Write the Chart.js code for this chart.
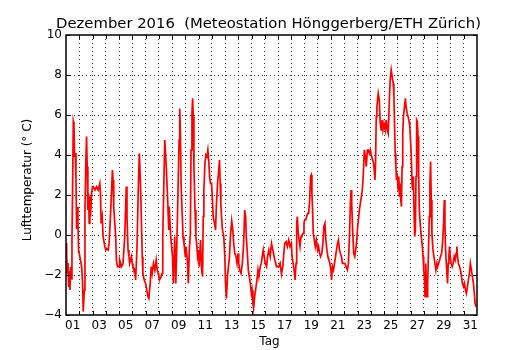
<!DOCTYPE html>
<html><head><meta charset="utf-8">
<script src="https://cdn.jsdelivr.net/npm/chart.js@4/dist/chart.umd.min.js"></script>
<style>html,body{margin:0;padding:0;background:#fff}canvas{display:block}</style>
</head><body>
<canvas id="c" width="530" height="350"></canvas>
<script>
const titleText = 'Dezember 2016  (Meteostation Hönggerberg/ETH Zürich)';
const xTitle = 'Tag';
const yTitle = 'Lufttemperatur (° C)';
const dayLabels = ['01','03','05','07','09','11','13','15','17','19','21','23','25','27','29','31'];
const yTickValues = [-4, -2, 0, 2, 4, 6, 8, 10];

// time in days since 1 Dec 00:00
const timeDays = [
 0.00,0.05,0.10,0.15,0.20,0.25,0.30,0.35,0.40,0.45,0.50,0.55,0.60,0.65,0.70,0.75,0.80,0.85,0.90,0.95,
 1.00,1.05,1.18,1.25,1.30,1.38,1.43,1.50,1.55,1.60,1.65,1.70,1.75,1.80,1.85,1.93,
 2.00,2.05,2.18,2.30,2.43,2.55,2.60,2.65,2.73,2.80,2.93,
 3.00,3.05,3.18,3.25,3.35,3.43,3.50,3.55,3.60,3.68,3.75,3.80,3.88,
 4.00,4.05,4.18,4.30,4.43,4.50,4.55,4.60,4.68,4.75,4.80,4.93,
 5.00,5.05,5.18,5.25,5.35,5.45,5.53,5.60,5.68,5.75,5.80,5.90,
 6.00,6.05,6.18,6.25,6.35,6.43,6.50,6.60,6.70,6.80,6.88,6.95,
 7.00,7.05,7.18,7.25,7.30,7.38,7.45,7.55,7.65,7.75,7.78,7.90,
 8.03,8.10,8.20,8.28,8.35,8.45,8.53,8.58,8.63,8.68,8.75,8.83,8.90,
 9.00,9.05,9.15,9.23,9.30,9.38,9.43,9.50,9.55,9.60,9.65,9.73,9.80,9.85,9.93,
 10.00,10.05,10.15,10.23,10.30,10.35,10.40,10.48,10.55,10.63,10.70,10.78,10.83,10.90,10.98,
 11.03,11.10,11.20,11.28,11.35,11.43,11.50,11.58,11.63,11.68,11.73,11.80,11.90,11.98,
 12.03,12.10,12.18,12.25,12.33,12.40,12.50,12.58,12.65,12.73,12.83,12.90,12.98,
 13.03,13.10,13.20,13.30,13.40,13.48,13.55,13.60,13.68,13.75,13.83,13.90,13.98,
 14.03,14.10,14.15,14.23,14.30,14.40,14.48,14.55,14.65,14.73,14.80,14.88,14.95,
 15.03,15.13,15.20,15.30,15.40,15.50,15.60,15.75,15.88,
 16.05,16.15,16.25,16.35,16.43,16.50,16.60,16.70,16.80,16.90,
 17.00,17.05,17.13,17.20,17.28,17.35,17.40,17.45,17.50,17.58,17.65,17.73,17.80,17.88,17.95,
 18.00,18.08,18.15,18.23,18.30,18.38,18.45,18.50,18.55,18.60,18.65,18.73,18.80,18.88,18.98,
 19.05,19.13,19.20,19.30,19.38,19.45,19.53,19.60,19.68,19.75,19.83,19.90,19.98,
 20.03,20.10,20.18,20.25,20.33,20.40,20.48,20.55,20.63,20.70,20.78,20.85,20.93,
 21.03,21.13,21.23,21.30,21.38,21.45,21.50,21.55,21.63,21.70,21.78,21.85,21.93,21.98,
 22.05,22.13,22.20,22.28,22.35,22.43,22.50,22.58,22.65,22.73,22.80,22.88,22.95,
 23.05,23.13,23.20,23.25,23.30,23.35,23.40,23.45,23.55,23.63,23.70,23.78,23.83,23.90,23.98,
 24.08,24.15,24.23,24.30,24.38,24.45,24.53,24.60,24.68,24.73,24.78,24.83,24.88,24.93,24.98,
 25.05,25.10,25.15,25.20,25.25,25.30,25.35,25.40,25.45,25.53,25.60,25.65,25.73,25.80,25.88,25.93,26.00,
 26.05,26.10,26.15,26.20,26.25,26.30,26.35,26.40,26.45,26.50,26.55,26.60,26.65,26.73,26.80,26.88,26.93,26.98,
 27.03,27.08,27.13,27.18,27.23,27.28,27.33,27.40,27.45,27.50,27.55,27.60,27.68,27.75,27.83,27.90,27.98,
 28.03,28.10,28.18,28.25,28.33,28.40,28.48,28.53,28.58,28.63,28.70,28.78,28.83,28.88,28.93,28.98,
 29.05,29.13,29.20,29.28,29.35,29.43,29.48,29.53,29.60,29.68,29.75,29.83,29.90,29.98,
 30.05,30.13,30.20,30.28,30.35,30.43,30.50,30.58,30.65,30.73,30.80,30.85,30.95
];

// air temperature in degrees C
const tempC = [
 -0.40,-1.00,-1.90,-1.40,-2.60,-1.80,-2.75,-1.60,-2.20,-0.30,2.58,5.67,5.50,3.90,4.10,2.90,0.30,1.40,0.60,-0.80,
 -0.92,-0.92,-1.58,-2.42,-3.83,-2.75,1.25,3.75,4.92,3.42,1.25,2.08,0.58,1.92,0.92,2.08,
 2.42,2.42,2.25,2.42,2.25,2.58,2.08,0.58,0.92,-0.08,-0.58,
 -0.75,-0.67,-0.75,-0.42,0.92,2.08,3.25,2.75,1.42,0.58,-0.08,-1.25,-1.58,
 -1.58,-1.25,-1.58,-1.42,-0.08,1.42,2.42,0.92,-0.75,-1.08,-1.42,-1.08,
 -1.42,-1.58,-1.75,-2.25,-0.75,2.25,4.08,2.92,0.92,-1.08,-1.92,-2.25,
 -2.42,-2.58,-3.08,-3.17,-2.42,-1.58,-1.92,-1.42,-1.75,-1.25,-1.75,-1.92,
 -2.08,-2.25,-2.08,-1.92,-0.08,2.58,4.75,3.58,2.08,0.25,1.42,-0.08,
 -1.08,-2.42,-0.08,-2.42,-0.75,2.25,4.75,6.33,5.08,2.58,1.25,-0.08,-0.42,
 -1.08,-0.58,-1.25,-2.42,-0.75,0.08,4.25,6.08,6.83,5.92,3.42,1.25,-0.08,-0.42,-1.08,
 -0.75,-1.58,-0.25,-1.75,-2.08,0.92,2.25,3.58,4.00,3.92,4.25,3.58,2.92,2.58,2.58,
 1.92,0.92,0.58,0.25,1.58,2.58,3.08,3.75,2.58,1.58,0.92,0.25,-0.08,-1.08,
 -2.42,-3.17,-2.08,-1.58,-1.08,-0.08,0.70,0.25,-0.42,-0.92,-1.08,-1.42,-0.92,
 -1.42,-1.75,-1.92,-1.42,-0.42,1.25,0.92,-0.08,-0.92,-1.75,-2.08,-2.42,-2.92,
 -2.75,-3.42,-3.67,-3.08,-2.75,-2.25,-1.75,-2.08,-1.58,-1.42,-1.08,-0.75,-1.08,
 -1.42,-1.58,-1.08,-0.75,-1.08,-0.42,-0.75,-1.25,-1.58,
 -1.58,-1.42,-1.95,-1.58,-0.92,-0.42,-0.33,-0.58,-0.25,-0.58,
 -0.42,-1.08,-1.42,-1.75,-2.25,-1.42,0.58,0.92,0.25,-0.25,-0.58,-0.08,0.00,0.08,0.58,
 0.75,0.75,0.92,1.08,1.08,1.75,2.92,3.00,2.08,1.25,0.08,-0.25,-0.58,-0.25,-0.75,
 -0.58,-0.92,-1.08,-0.92,-0.42,0.42,0.58,-0.25,-0.75,-1.08,-1.25,-1.42,-1.75,
 -2.25,-1.58,-1.75,-1.42,-1.08,-0.75,-0.42,-0.25,-0.75,-0.92,-1.08,-1.42,-1.42,
 -1.42,-1.58,-1.75,-1.42,-0.08,1.58,2.25,1.58,0.08,-0.92,-1.08,-0.75,-0.25,0.25,
 0.75,1.25,1.58,1.92,2.25,3.08,4.25,3.92,3.42,4.25,4.25,4.08,4.25,
 3.92,3.75,3.58,3.25,2.75,3.58,5.92,6.42,7.08,6.75,5.58,5.25,5.75,5.25,5.58,
 5.25,5.75,5.25,5.08,6.58,7.75,8.25,7.92,7.58,7.08,5.58,4.08,3.42,2.75,3.08,
 2.25,2.92,1.92,2.58,1.75,1.42,3.42,5.08,5.92,6.42,6.83,6.42,6.08,5.92,5.67,5.42,4.58,
 3.75,2.58,2.25,2.92,1.25,-0.08,0.25,2.92,5.75,5.67,4.92,3.08,1.25,0.42,-0.08,-0.58,-1.08,-1.75,
 -2.08,-3.08,-1.42,-2.42,-3.08,-2.42,-1.08,0.92,2.58,3.67,1.75,0.08,-0.75,-1.08,-1.42,-1.75,-1.42,
 -1.58,-1.42,-1.25,-1.08,-0.92,-0.42,0.58,1.75,0.58,-0.75,-1.58,-2.42,-1.42,-1.08,-0.58,-1.08,
 -1.42,-1.58,-1.42,-1.08,-1.25,-0.92,-0.58,-1.08,-1.42,-1.58,-1.75,-2.08,-2.42,-2.58,
 -2.42,-2.75,-2.92,-2.58,-2.25,-1.92,-1.42,-1.75,-2.08,-2.42,-2.92,-3.42,-3.60
];

const FONT = 'DejaVu Sans';
const gridColor = 'rgba(0,0,0,0.8)';
const points = timeDays.map((t, i) => ({x: t, y: tempC[i]}));

const framePlugin = {
  id: 'frame',
  afterDatasetsDraw(chart) {
    const {ctx, chartArea: a, scales} = chart;
    ctx.save();
    ctx.strokeStyle = '#000';
    ctx.lineWidth = 1;
    ctx.beginPath();
    for (let d = 1; d < 31; d++) {
      const px = Math.round(scales.x.getPixelForValue(d)) + 0.5;
      ctx.moveTo(px, a.bottom); ctx.lineTo(px, a.bottom - 4);
      ctx.moveTo(px, a.top); ctx.lineTo(px, a.top + 4);
    }
    yTickValues.forEach(v => {
      const py = Math.round(scales.y.getPixelForValue(v)) + 0.5;
      ctx.moveTo(a.left, py); ctx.lineTo(a.left + 4, py);
      ctx.moveTo(a.right, py); ctx.lineTo(a.right - 4, py);
    });
    ctx.stroke();
    ctx.lineWidth = 1.5;
    ctx.strokeRect(a.left, a.top, a.right - a.left, a.bottom - a.top);
    ctx.restore();
  },
  afterDraw(chart) {
    const {ctx, chartArea: a} = chart;
    ctx.save();
    ctx.fillStyle = '#000';
    ctx.textAlign = 'center';
    ctx.textBaseline = 'alphabetic';
    ctx.font = '14.8px "' + FONT + '"';
    ctx.fillText(titleText, 268.5, 27.5);
    ctx.font = '12px "' + FONT + '"';
    ctx.fillText(xTitle, (a.left + a.right) / 2 - 2, 345);
    ctx.translate(28, 180);
    ctx.rotate(-Math.PI / 2);
    ctx.textBaseline = 'middle';
    ctx.fillText(yTitle, 0, 0);
    ctx.restore();
  }
};

new Chart(document.getElementById('c'), {
  type: 'line',
  data: {
    datasets: [{
      data: points,
      borderColor: '#ff0000',
      borderWidth: 1.7,
      pointRadius: 0,
      tension: 0,
      fill: false
    }]
  },
  options: {
    responsive: false,
    animation: false,
    devicePixelRatio: 1,
    layout: {padding: {top: 35, right: 53, bottom: 0, left: 0}},
    plugins: {legend: {display: false}, tooltip: {enabled: false}, title: {display: false}},
    scales: {
      x: {
        type: 'linear', min: 0, max: 31,
        afterBuildTicks(s) {
          const t = [];
          for (let i = 0; i <= 62; i++) t.push({value: i / 2});
          s.ticks = t;
        },
        afterFit(s) { s.height = 35; },
        ticks: {
          autoSkip: false, maxRotation: 0, minRotation: 0, padding: 4,
          color: '#000', font: {family: FONT, size: 12},
          callback(v) {
            const d = v + 0.5;
            return (Number.isInteger(d) && d % 2 === 1) ? dayLabels[(d - 1) / 2] : '';
          }
        },
        grid: {
          drawTicks: false, lineWidth: 1,
          color(ctx) {
            const v = ctx.tick && ctx.tick.value;
            return (Number.isInteger(v) && v > 0 && v < 31) ? gridColor : 'rgba(0,0,0,0)';
          }
        },
        border: {display: false, dash: [1, 3]}
      },
      y: {
        min: -4, max: 10,
        afterBuildTicks(s) { s.ticks = yTickValues.map(v => ({value: v})); },
        afterFit(s) { s.width = 66; },
        ticks: {
          padding: 4, color: '#000', font: {family: FONT, size: 12},
          callback(v) { return String(v).replace('-', '\u2212'); }
        },
        grid: {
          drawTicks: false, lineWidth: 1,
          color(ctx) {
            const v = ctx.tick && ctx.tick.value;
            return (v > -4 && v < 10) ? gridColor : 'rgba(0,0,0,0)';
          }
        },
        border: {display: false, dash: [1, 3]}
      }
    }
  },
  plugins: [framePlugin]
});
</script>
</body></html>
